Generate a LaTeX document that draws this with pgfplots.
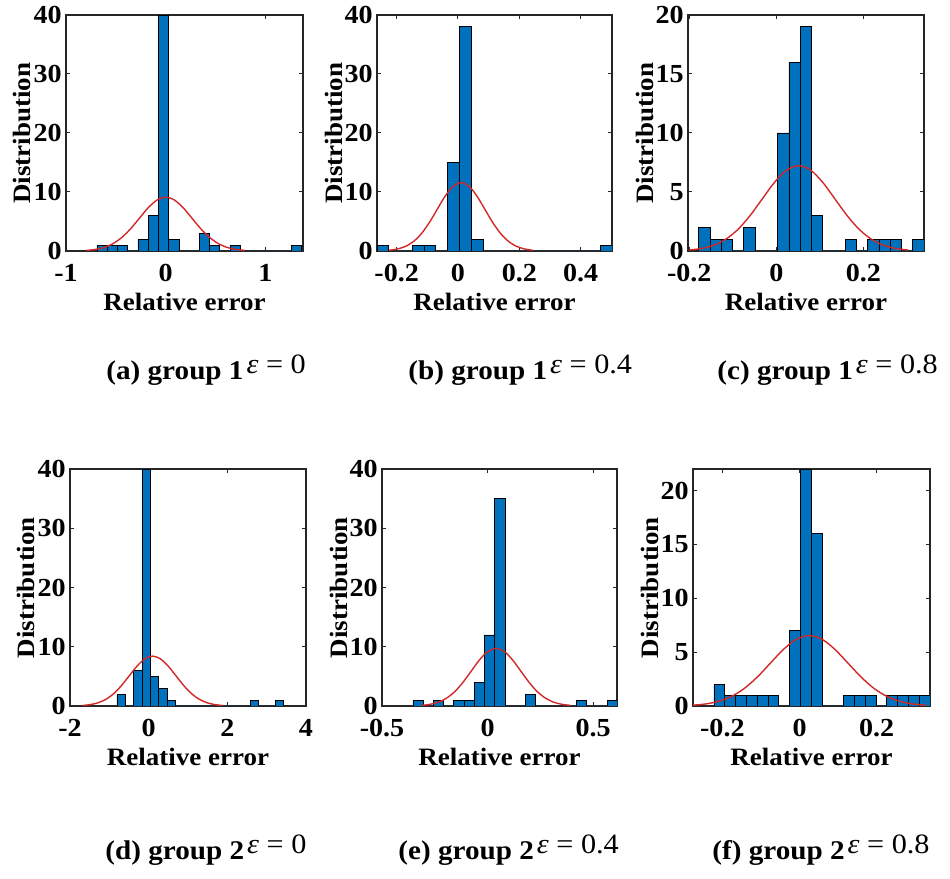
\documentclass[border=0pt]{standalone}
\usepackage{fontspec}
\setmainfont{Liberation Serif}[FakeStretch=1.08]
\usepackage{pgfplots}
\pgfplotsset{compat=1.18}
\definecolor{mblue}{RGB}{0,114,189}
\definecolor{mred}{RGB}{210,40,40}
\definecolor{axgray}{RGB}{38,38,38}
\pgfplotsset{
  hist/.style={
    scale only axis, anchor=south west,
    axis line style={axgray, line width=0.6pt},
    tick align=inside, major tick length=2pt,
    tick style={axgray, line width=0.5pt},
    ymin=0,
    xlabel={Relative error}, ylabel={Distribution},
    label style={font=\fontsize{12.5}{14}\selectfont\bfseries},
    tick label style={font=\fontsize{13}{15}\selectfont\bfseries},
    xticklabel style={anchor=base, inner sep=0pt, yshift=-15.5pt},
    yticklabel style={anchor=east, inner sep=0pt, xshift=-2pt},
    xlabel style={at={([yshift=-30pt]axis description cs:0.5,0)}, anchor=base},
    ylabel style={at={([xshift=-17.5pt]axis description cs:0,0.5)}, anchor=base},
  },
  bars/.style={ybar interval, fill=mblue, draw=black, line width=0.3pt},
  fit/.style={mred, line width=0.7pt, smooth},
}
\newcommand{\capfont}{\fontsize{13.5}{15}\selectfont\bfseries}
\newcommand{\eps}[1]{\hspace{1.5pt}\raisebox{3pt}{\normalfont\fontsize{14}{16}\selectfont\itshape ε\upshape{} = #1}}
\begin{document}
\begin{tikzpicture}
\path[use as bounding box] (0,0) rectangle (475pt,439.5pt);

% (a)
\begin{axis}[hist, at={(33pt,314pt)}, width=118.5pt, height=118pt,
  xmin=-1, xmax=1.377, xtick={-1,0,1}, xticklabels={-1,0,1},
  ymax=40, ytick={0,10,20,30,40}, yticklabels={0,10,20,30,40}]
\addplot[bars] coordinates {(-0.690,1)(-0.587,1)(-0.485,1)(-0.382,0)(-0.279,2)(-0.177,6)(-0.074,40)(0.029,2)(0.132,0)(0.234,0)(0.337,3)(0.440,1)(0.542,0)(0.645,1)(0.748,0)(0.851,0)(0.953,0)(1.056,0)(1.159,0)(1.261,1)(1.364,0)};
\addplot[fit] coordinates {(-0.795,0.101)(-0.707,0.261)(-0.618,0.599)(-0.530,1.234)(-0.442,2.275)(-0.353,3.749)(-0.265,5.531)(-0.177,7.302)(-0.088,8.628)(0,9.12)(0.088,8.628)(0.177,7.302)(0.265,5.531)(0.353,3.749)(0.442,2.275)(0.530,1.234)(0.618,0.599)(0.707,0.261)(0.795,0.101)};
\end{axis}

% (b)
\begin{axis}[hist, at={(188.5pt,314pt)}, width=117.5pt, height=118pt,
  xmin=-0.264, xmax=0.502, xtick={-0.2,0,0.2,0.4}, xticklabels={-0.2,0,0.2,0.4},
  ymax=40, ytick={0,10,20,30,40}, yticklabels={0,10,20,30,40}]
\addplot[bars] coordinates {(-0.264,1)(-0.226,0)(-0.187,0)(-0.149,1)(-0.111,1)(-0.073,0)(-0.034,15)(0.004,38)(0.042,2)(0.081,0)(0.119,0)(0.157,0)(0.196,0)(0.234,0)(0.272,0)(0.311,0)(0.349,0)(0.387,0)(0.425,0)(0.464,1)(0.502,0)};
\addplot[fit] coordinates {(-0.224,0.129)(-0.198,0.332)(-0.172,0.762)(-0.146,1.569)(-0.120,2.893)(-0.094,4.769)(-0.068,7.035)(-0.042,9.288)(-0.016,10.974)(0.010,11.6)(0.036,10.974)(0.062,9.288)(0.088,7.035)(0.114,4.769)(0.140,2.893)(0.166,1.569)(0.192,0.762)(0.218,0.332)(0.244,0.129)};
\end{axis}

% (c)
\begin{axis}[hist, at={(344pt,314pt)}, width=118pt, height=118pt,
  xmin=-0.203, xmax=0.339, xtick={-0.2,0,0.2}, xticklabels={-0.2,0,0.2},
  ymax=20, ytick={0,5,10,15,20}, yticklabels={0,5,10,15,20}]
\addplot[bars] coordinates {(-0.1785,2)(-0.1526,1)(-0.1268,1)(-0.1009,0)(-0.0750,2)(-0.0492,0)(-0.0233,0)(0.0026,10)(0.0285,16)(0.0543,19)(0.0802,3)(0.1061,0)(0.1319,0)(0.1578,1)(0.1837,0)(0.2096,1)(0.2354,1)(0.2613,1)(0.2872,0)(0.3130,1)(0.3389,0)};
\addplot[fit] coordinates {(-0.201,0.080)(-0.173,0.207)(-0.145,0.475)(-0.117,0.978)(-0.089,1.803)(-0.061,2.972)(-0.033,4.385)(-0.005,5.789)(0.023,6.840)(0.051,7.23)(0.079,6.840)(0.107,5.789)(0.135,4.385)(0.163,2.972)(0.191,1.803)(0.219,0.978)(0.247,0.475)(0.275,0.207)(0.303,0.080)};
\end{axis}

% (d)
\begin{axis}[hist, at={(35pt,86.5pt)}, width=118pt, height=118.5pt,
  xmin=-2, xmax=4, xtick={-2,0,2,4}, xticklabels={-2,0,2,4},
  ymax=40, ytick={0,10,20,30,40}, yticklabels={0,10,20,30,40}]
\addplot[bars] coordinates {(-0.805,2)(-0.593,0)(-0.381,6)(-0.169,40)(0.043,5)(0.255,3)(0.467,1)(0.679,0)(0.891,0)(1.103,0)(1.315,0)(1.527,0)(1.739,0)(1.951,0)(2.163,0)(2.375,0)(2.587,1)(2.799,0)(3.011,0)(3.223,1)(3.435,0)};
\addplot[fit] coordinates {(-1.6775,0.093)(-1.48,0.241)(-1.2825,0.553)(-1.085,1.139)(-0.8875,2.100)(-0.69,3.461)(-0.4925,5.107)(-0.295,6.742)(-0.0975,7.965)(0.1,8.42)(0.2975,7.965)(0.495,6.742)(0.6925,5.107)(0.89,3.461)(1.0875,2.100)(1.285,1.139)(1.4825,0.553)(1.68,0.241)(1.8775,0.093)};
\end{axis}

% (e)
\begin{axis}[hist, at={(191pt,86.5pt)}, width=117.5pt, height=118.5pt,
  xmin=-0.5, xmax=0.613, xtick={-0.5,0,0.5}, xticklabels={-0.5,0,0.5},
  ymax=40, ytick={0,10,20,30,40}, yticklabels={0,10,20,30,40}]
\addplot[bars] coordinates {(-0.354,1)(-0.306,0)(-0.257,1)(-0.209,0)(-0.160,1)(-0.112,1)(-0.064,4)(-0.015,12)(0.033,35)(0.082,0)(0.130,0)(0.178,2)(0.227,0)(0.275,0)(0.324,0)(0.372,0)(0.420,1)(0.469,0)(0.517,0)(0.566,1)(0.614,0)};
\addplot[fit] coordinates {(-0.3119,0.108)(-0.2728,0.278)(-0.2337,0.639)(-0.1946,1.315)(-0.1555,2.424)(-0.1164,3.996)(-0.0773,5.895)(-0.0382,7.783)(0.0009,9.195)(0.04,9.72)(0.0791,9.195)(0.1182,7.783)(0.1573,5.895)(0.1964,3.996)(0.2355,2.424)(0.2746,1.315)(0.3137,0.639)(0.3528,0.278)(0.3919,0.108)};
\end{axis}

% (f)
\begin{axis}[hist, at={(346.5pt,86.5pt)}, width=118.5pt, height=118.5pt,
  xmin=-0.276, xmax=0.338, xtick={-0.2,0,0.2}, xticklabels={-0.2,0,0.2},
  ymax=22, ytick={0,5,10,15,20}, yticklabels={0,5,10,15,20}]
\addplot[bars] coordinates {(-0.222,2)(-0.194,1)(-0.166,1)(-0.138,1)(-0.110,1)(-0.082,1)(-0.054,0)(-0.026,7)(0.002,22)(0.030,16)(0.058,0)(0.086,0)(0.114,1)(0.142,1)(0.170,1)(0.198,0)(0.226,1)(0.254,1)(0.282,1)(0.310,1)(0.338,0)};
\addplot[fit] coordinates {(-0.2774,0.073)(-0.2438,0.187)(-0.2102,0.430)(-0.1766,0.885)(-0.143,1.631)(-0.1094,2.689)(-0.0758,3.967)(-0.0422,5.237)(-0.0086,6.187)(0.025,6.54)(0.0586,6.187)(0.0922,5.237)(0.1258,3.967)(0.1594,2.689)(0.193,1.631)(0.2266,0.885)(0.2602,0.430)(0.2938,0.187)(0.3274,0.073)};
\end{axis}

% captions
\node[anchor=base west, font=\capfont, inner sep=0pt] at (53pt,249.5pt) {(a) group 1\eps{0}};
\node[anchor=base west, font=\capfont, inner sep=0pt] at (204pt,249.5pt) {(b) group 1\eps{0.4}};
\node[anchor=base west, font=\capfont, inner sep=0pt] at (358.5pt,249.5pt) {(c) group 1\eps{0.8}};
\node[anchor=base west, font=\capfont, inner sep=0pt] at (52.5pt,9.5pt) {(d) group 2\eps{0}};
\node[anchor=base west, font=\capfont, inner sep=0pt] at (199pt,9.5pt) {(e) group 2\eps{0.4}};
\node[anchor=base west, font=\capfont, inner sep=0pt] at (356pt,9.5pt) {(f) group 2\eps{0.8}};
\end{tikzpicture}
\end{document}
